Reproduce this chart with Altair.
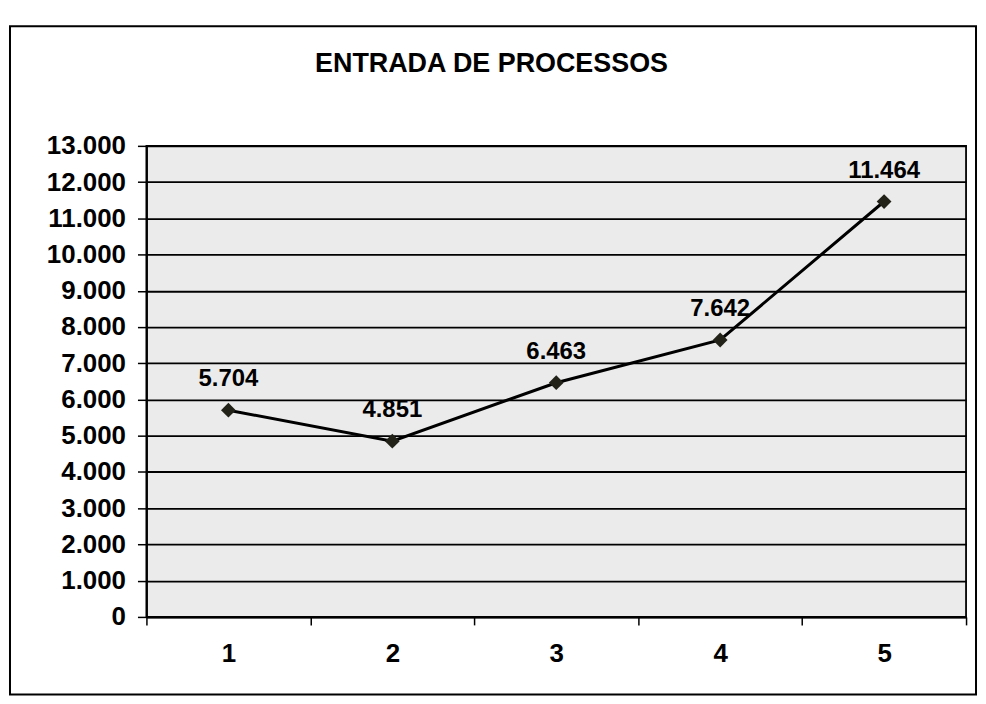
import altair as alt
import pandas as pd

# ---- data ----
categories = [1, 2, 3, 4, 5]
values = [5704, 4851, 6463, 7642, 11464]
y_ticks = [0, 1000, 2000, 3000, 4000, 5000, 6000, 7000, 8000, 9000, 10000, 11000, 12000, 13000]
x_ticks = [0.5, 1, 1.5, 2, 2.5, 3, 3.5, 4, 4.5, 5, 5.5]
title_text = "ENTRADA DE PROCESSOS"

df = pd.DataFrame({"cat": categories, "value": values})

W, H = 823, 473
FONT = "Liberation Sans"

x = alt.X(
    "cat:Q",
    scale=alt.Scale(domain=[0.5, 5.5], nice=False, zero=False),
    axis=alt.Axis(
        values=x_ticks, title=None, grid=False,
        tickSize=8, tickWidth=1.5, tickColor="black",
        tickOpacity={"condition": {"test": "datum.value % 1 === 0", "value": 0}, "value": 1},
        labelExpr="datum.value % 1 === 0 ? format(datum.value, 'd') : ''",
        labelPadding=16, labelFont=FONT, labelFontSize=26, labelFontWeight="bold",
        labelColor="black", labelOverlap=False, labelFlush=False,
        domainColor="black", domainWidth=2,
    ),
)
y = alt.Y(
    "value:Q",
    scale=alt.Scale(domain=[0, 13000], nice=False),
    axis=alt.Axis(
        values=y_ticks, title=None, grid=True,
        gridColor="black", gridWidth=1.8, gridOpacity=1,
        tickSize=9, tickColor="black", tickWidth=1.5,
        labelExpr="replace(format(datum.value, ',d'), ',', '.')",
        labelPadding=12, labelFont=FONT, labelFontSize=26, labelFontWeight="bold",
        labelColor="black", labelOverlap=False,
        domainColor="black", domainWidth=2,
    ),
)

base = alt.Chart(df).encode(x=x, y=y)

line = base.mark_line(color="black", strokeWidth=3)
points = base.mark_point(shape="diamond", filled=True, size=220, color="#222218", opacity=1)
labels = base.transform_calculate(
    label="replace(format(datum.value, ',d'), ',', '.')"
).mark_text(
    dy=-19, baseline="bottom", align="center",
    font=FONT, fontSize=24, fontWeight="bold", color="black"
).encode(text="label:N")

frame = alt.Chart(pd.DataFrame({"f": [0]})).mark_rect(
    fillOpacity=0, stroke="black", strokeWidth=2
).encode(
    x=alt.value(-137), x2=alt.value(833),
    y=alt.value(-120), y2=alt.value(551),
)

chart = alt.layer(frame, line, points, labels).properties(
    width=W, height=H,
    padding={"left": 139, "top": 137, "right": 12, "bottom": 82},
    autosize=alt.AutoSizeParams(type="none"),
    title=alt.TitleParams(
        title_text, font=FONT, fontSize=27, fontWeight="bold", color="black",
        anchor="middle", frame="group", dx=-65, offset=-80, baseline="bottom",
    ),
).configure(
    background="white",
    view=alt.ViewConfig(fill="#ebebeb", stroke="black", strokeWidth=1.8),
)

chart.save("out.html", embed_options={"renderer": "svg", "actions": False})
